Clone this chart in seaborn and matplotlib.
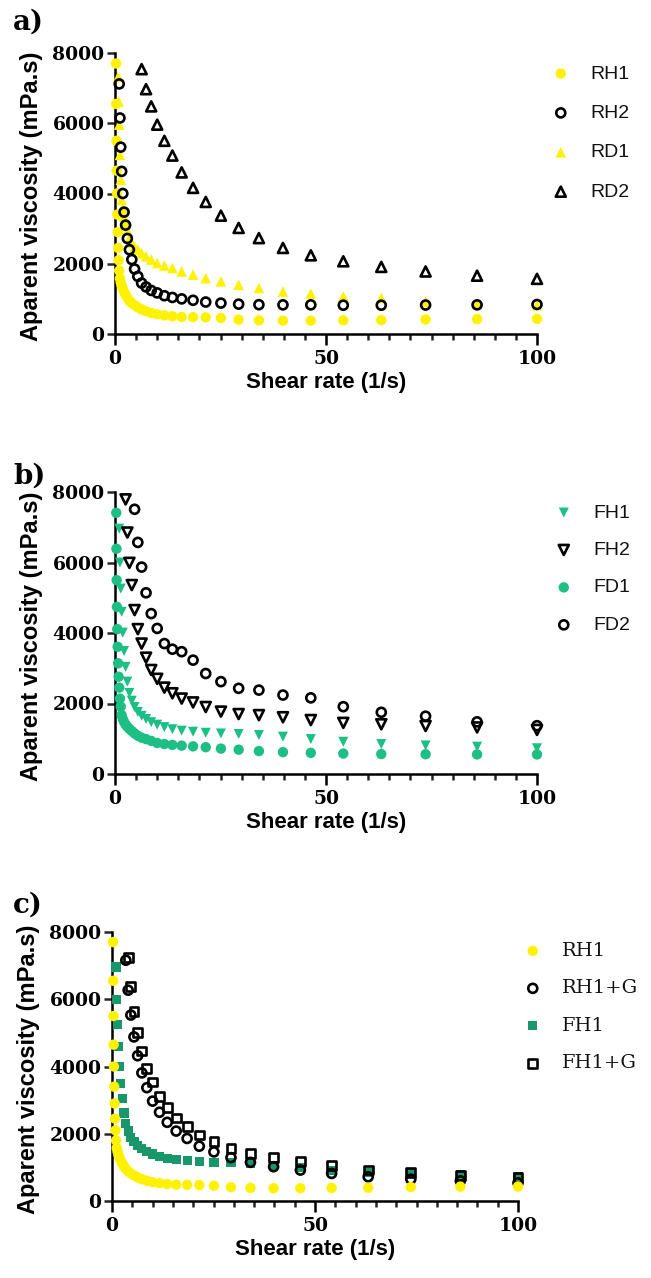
import numpy as np
import matplotlib
matplotlib.use("Agg")
import matplotlib.pyplot as plt
import seaborn as sns
from matplotlib.ticker import MultipleLocator, FixedLocator

# Shear-rate steps of the logarithmic ramp (1/s)
shear_rate = [0.251, 0.293, 0.341, 0.398, 0.464, 0.541, 0.631, 0.736, 0.858, 1.00,
              1.17, 1.36, 1.58, 1.85, 2.15, 2.51, 2.93, 3.41, 3.98, 4.64,
              5.41, 6.31, 7.36, 8.58, 10.0, 11.7, 13.6, 15.8, 18.5, 21.5,
              25.1, 29.3, 34.1, 39.8, 46.4, 54.1, 63.1, 73.6, 85.8, 100.0]

# Apparent viscosity (mPa.s); readings above 8000 lie off scale and are not listed,
# so each series covers the last steps of the ramp.
rh1 = [7700, 6550, 5500, 4650, 4000, 3400, 2900, 2450, 2100, 1800,
       1580, 1470, 1380, 1290, 1200, 1110, 1030, 950, 880, 820,
       760, 700, 650, 600, 560, 530, 505, 485, 480, 475,
       455, 410, 390, 380, 380, 390, 395, 415, 425, 430]
rh2 = [7120, 6150, 5320, 4630, 4000, 3470, 3100, 2720, 2400, 2120,
       1850, 1640, 1450, 1340, 1240, 1170, 1090, 1040, 1000, 960,
       910, 880, 850, 835, 830, 830, 820, 820, 825, 830, 840]
rd1 = [7320, 6620, 5960, 5100, 4390, 3820, 3580, 3350, 3150, 2950,
       2720, 2600, 2480, 2400, 2300, 2210, 2120, 2020, 1950, 1880,
       1780, 1690, 1590, 1500, 1400, 1310, 1210, 1150, 1070, 1025,
       920, 860, 820]
rd2 = [7540, 6970, 6480, 5960, 5500, 5080, 4600, 4160, 3760, 3370,
       3020, 2730, 2450, 2240, 2070, 1910, 1780, 1660, 1570]

fh1 = [6960, 6000, 5260, 4600, 4010, 3490, 3040, 2620, 2300, 2080,
       1900, 1760, 1650, 1560, 1470, 1400, 1330, 1270, 1230, 1200,
       1170, 1150, 1135, 1105, 1060, 990, 915, 850, 810, 775, 730]
fh2 = [7790, 6850, 5990, 5360, 4650, 4110, 3700, 3300, 2950, 2700,
       2450, 2290, 2140, 2030, 1900, 1770, 1700, 1670, 1610, 1530,
       1450, 1410, 1360, 1320, 1250]
fd1 = [7410, 6390, 5500, 4740, 4110, 3610, 3140, 2760, 2450, 2140,
       1910, 1670, 1560, 1480, 1400, 1340, 1280, 1220, 1150, 1085,
       1030, 990, 940, 880, 850, 825, 805, 785, 760, 720,
       690, 650, 620, 600, 580, 565, 560, 555, 555]
fd2 = [7510, 6570, 5870, 5140, 4550, 4130, 3700, 3540, 3470, 3230,
       2850, 2620, 2430, 2380, 2240, 2160, 1910, 1750, 1640, 1480, 1370]

rh1_g = [7160, 6270, 5530, 4880, 4320, 3810, 3370, 2970, 2640, 2340,
         2080, 1860, 1630, 1460, 1290, 1150, 1020, 920, 820, 720,
         650, 600, 540]
fh1_g = [7230, 6370, 5640, 5010, 4460, 3940, 3540, 3100, 2770, 2470,
         2210, 1960, 1760, 1570, 1420, 1290, 1170, 1050, 920, 840,
         770, 700]

YELLOW = "#FFF200"
GREEN_B = "#1DBF85"
GREEN_C = "#17976A"
BLACK = "#000000"

sns.set_theme(style="ticks")
plt.rcParams["font.family"] = ["DejaVu Sans"]
plt.rcParams["axes.linewidth"] = 1.6

W, H = 651, 1278
fig = plt.figure(figsize=(W / 100, H / 100), dpi=100)


def axes_px(left, top, right, bottom):
    return fig.add_axes([left / W, 1 - bottom / H, (right - left) / W, (bottom - top) / H])


def on_grid(values):
    lead = len(shear_rate) - len(values)
    return [np.nan] * lead + list(values)


def add_series(ax, values, label, marker, size, color, hollow=False, z=3):
    y = on_grid(values)
    if hollow:
        sns.scatterplot(x=shear_rate, y=y, ax=ax, marker=marker, s=size,
                        facecolor="none", edgecolor=color, linewidth=1.9,
                        clip_on=False, label=label, zorder=z)
    else:
        sns.scatterplot(x=shear_rate, y=y, ax=ax, marker=marker, s=size,
                        color=color, edgecolor="none", linewidth=0,
                        clip_on=False, label=label, zorder=z)


def style_axes(ax, width_px, height_px):
    ax.set_xlim(0, 100)
    ax.set_ylim(0, 8000)
    ax.xaxis.set_major_locator(FixedLocator([0, 50, 100]))
    ax.xaxis.set_minor_locator(MultipleLocator(5))
    ax.yaxis.set_major_locator(MultipleLocator(2000))
    sns.despine(ax=ax)
    for s in ("left", "bottom"):
        ax.spines[s].set_linewidth(1.8)
        ax.spines[s].set_color("black")
    ax.tick_params(axis="x", which="major", length=8, width=1.8, direction="out",
                   pad=3.5, colors="black")
    ax.tick_params(axis="x", which="minor", length=4.5, width=1.8, direction="out")
    ax.tick_params(axis="y", which="major", length=5.5, width=1.8, direction="out",
                   pad=2)
    for lab in ax.get_xticklabels() + ax.get_yticklabels():
        lab.set_fontfamily("DejaVu Serif")
        lab.set_fontweight("bold")
        lab.set_fontsize(13.5)
        lab.set_color("black")
    ax.set_xlabel("Shear rate (1/s)", fontsize=16, fontweight="bold",
                  fontfamily="Liberation Sans", color="black")
    ax.set_ylabel("Aparent viscosity (mPa.s)", fontsize=17, fontweight="bold",
                  fontfamily="Liberation Sans", color="black")
    ax.xaxis.set_label_coords(0.5, -38 / height_px)
    ax.yaxis.set_label_coords(-72 / width_px, 0.49)
    ax.set_facecolor("white")


def add_legend(ax, x_px, y_px, family, size, spacing):
    leg = ax.legend(loc="upper left", bbox_to_anchor=(x_px / W, 1 - y_px / H),
                    bbox_transform=fig.transFigure, frameon=False,
                    handlelength=0.8, handletextpad=1.1, labelspacing=spacing,
                    borderpad=0, borderaxespad=0, scatterpoints=1,
                    prop={"family": family, "size": size})
    for t in leg.get_texts():
        t.set_color("#111111")
    return leg


# a) starch-based samples
ax_a = axes_px(115, 53, 537, 334)
add_series(ax_a, rh1, "RH1", "o", 56, YELLOW, z=3)
add_series(ax_a, rh2, "RH2", "o", 42, BLACK, hollow=True, z=5)
add_series(ax_a, rd1, "RD1", "^", 58, YELLOW, z=4)
add_series(ax_a, rd2, "RD2", "^", 52, BLACK, hollow=True, z=6)
style_axes(ax_a, 422, 281)
add_legend(ax_a, 553, 65, "Liberation Sans", 14, 1.12)

# b) flour-based samples
ax_b = axes_px(115, 492, 537, 774)
add_series(ax_b, fh1, "FH1", "v", 52, GREEN_B, z=3)
add_series(ax_b, fh2, "FH2", "v", 52, BLACK, hollow=True, z=5)
add_series(ax_b, fd1, "FD1", "o", 56, GREEN_B, z=4)
add_series(ax_b, fd2, "FD2", "o", 42, BLACK, hollow=True, z=6)
style_axes(ax_b, 422, 282)
add_legend(ax_b, 556, 504, "Liberation Sans", 14, 1.02)

# c) effect of the added G
ax_c = axes_px(112, 932, 518, 1201)
add_series(ax_c, rh1, "RH1", "o", 56, YELLOW, z=6)
add_series(ax_c, rh1_g, "RH1+G", "o", 42, BLACK, hollow=True, z=4)
add_series(ax_c, fh1, "FH1", "s", 44, GREEN_C, z=3)
add_series(ax_c, fh1_g, "FH1+G", "s", 40, BLACK, hollow=True, z=5)
style_axes(ax_c, 406, 269)
add_legend(ax_c, 525, 942, "DejaVu Serif", 14, 1.0)

for lab, ypx in (("a)", 22), ("b)", 476), ("c)", 905)):
    fig.text(13 / W, 1 - ypx / H, lab, fontsize=20, fontweight="bold",
             fontfamily="DejaVu Serif", va="center", ha="left", color="black")

fig.savefig("out.png", dpi=100, facecolor="white")
